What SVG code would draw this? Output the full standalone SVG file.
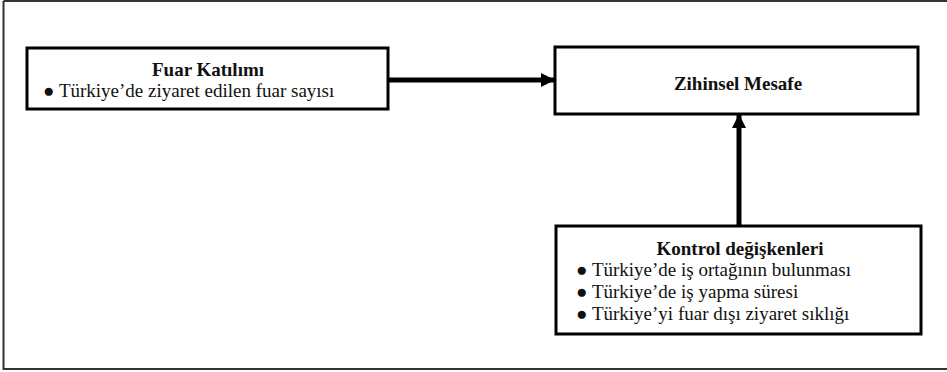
<svg xmlns="http://www.w3.org/2000/svg" width="947" height="372" viewBox="0 0 947 372">
<defs>
<style>
.box{fill:#fff;stroke:#000;stroke-width:3}
.t{font-size:19px;fill:#111}
.b{font-weight:bold}
.conn{stroke:#000;stroke-width:5;fill:none}
</style>
<marker id="ah" markerWidth="14" markerHeight="14" refX="13" refY="7" orient="auto" markerUnits="userSpaceOnUse">
<path d="M0,0 L14,7 L0,14 Z" fill="#000"/>
</marker>
</defs>
<rect x="0" y="0" width="947" height="372" fill="#fff"/>
<path d="M3.5,1 H950 M3.5,1 V369 H950" fill="none" stroke="#333" stroke-width="2"/>
<g id="fuar">
<rect class="box" x="27" y="48" width="361" height="61"/>
<text class="t b" font-family="Liberation Serif" x="208" y="76" text-anchor="middle">Fuar Katılımı</text>
<text class="t" font-family="Liberation Serif" x="43" y="97">● Türkiye’de ziyaret edilen fuar sayısı</text>
</g>
<g id="zihinsel">
<rect class="box" x="555" y="47" width="363" height="67"/>
<text class="t b" font-family="Liberation Serif" x="738" y="90" text-anchor="middle">Zihinsel Mesafe</text>
</g>
<g id="kontrol">
<rect class="box" x="556" y="226" width="365" height="108"/>
<text class="t b" font-family="Liberation Serif" x="740" y="255" text-anchor="middle">Kontrol değişkenleri</text>
<text class="t" font-family="Liberation Serif" x="576" y="276">● Türkiye’de iş ortağının bulunması</text>
<text class="t" font-family="Liberation Serif" x="576" y="298">● Türkiye’de iş yapma süresi</text>
<text class="t" font-family="Liberation Serif" x="576" y="320">● Türkiye’yi fuar dışı ziyaret sıklığı</text>
</g>
<g id="connectors">
<line class="conn" x1="389" y1="80" x2="554" y2="80" marker-end="url(#ah)"/>
<line class="conn" x1="739" y1="225" x2="739" y2="115" marker-end="url(#ah)"/>
</g>
</svg>
